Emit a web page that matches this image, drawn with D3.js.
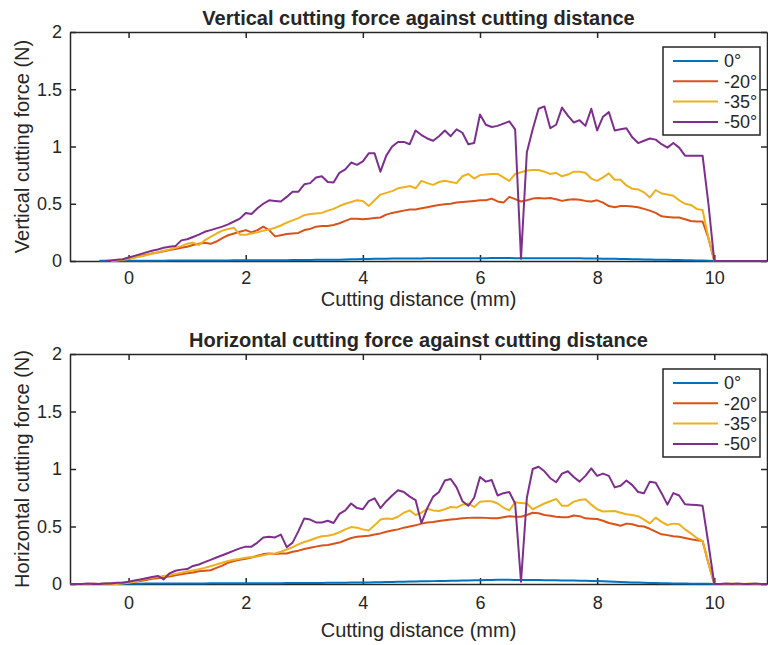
<!DOCTYPE html>
<html>
<head>
<meta charset="utf-8">
<script src="https://cdn.jsdelivr.net/npm/d3@7"></script>
<style>
  body { margin: 0; background: #fff; }
  text { font-family: "Liberation Sans", Arial, sans-serif; fill: #262626; }
</style>
</head>
<body>
<script>
// cutting distance (mm), sample grid shared by every series
var distance = [
  -1.0,-0.9,-0.8,-0.7,-0.6,-0.5,-0.4,-0.3,-0.2,-0.1,
  0.0,0.1,0.2,0.3,0.4,0.5,0.6,0.7,0.8,0.9,
  1.0,1.1,1.2,1.3,1.4,1.5,1.6,1.7,1.8,1.9,
  2.0,2.1,2.2,2.3,2.4,2.5,2.6,2.7,2.8,2.9,
  3.0,3.1,3.2,3.3,3.4,3.5,3.6,3.7,3.8,3.9,
  4.0,4.1,4.2,4.3,4.4,4.5,4.6,4.7,4.8,4.9,
  5.0,5.1,5.2,5.3,5.4,5.5,5.6,5.7,5.8,5.9,
  6.0,6.1,6.2,6.3,6.4,6.5,6.6,6.7,6.8,6.9,
  7.0,7.1,7.2,7.3,7.4,7.5,7.6,7.7,7.8,7.9,
  8.0,8.1,8.2,8.3,8.4,8.5,8.6,8.7,8.8,8.9,
  9.0,9.1,9.2,9.3,9.4,9.5,9.6,9.7,9.8,9.9,
  10.0,10.1,10.2,10.3,10.4,10.5,10.6,10.7,10.8,10.9
];

var angleLabels = ["0\u00b0", "-20\u00b0", "-35\u00b0", "-50\u00b0"];
var colors = ["#0072BD", "#D95319", "#EDB120", "#7E2F8E"];
var xTicks = [0, 2, 4, 6, 8, 10];
var yTicks = [0, 0.5, 1, 1.5, 2];

// vertical force (N)
var vert0 = [
  null,null,null,null,null,0.002,0.002,0.002,0.003,0.003,
  0.003,0.003,0.002,0.002,0.003,0.003,0.003,0.004,0.004,0.004,
  0.004,0.004,0.004,0.005,0.005,0.005,0.005,0.005,0.006,0.006,
  0.006,0.006,0.006,0.006,0.007,0.007,0.007,0.007,0.008,0.008,
  0.008,0.009,0.01,0.01,0.01,0.012,0.012,0.014,0.015,0.016,
  0.018,0.018,0.019,0.02,0.02,0.021,0.021,0.022,0.022,0.022,
  0.022,0.023,0.023,0.023,0.024,0.024,0.024,0.025,0.025,0.025,
  0.025,0.025,0.026,0.026,0.026,0.026,0.025,0.025,0.025,0.025,
  0.025,0.025,0.025,0.024,0.024,0.024,0.023,0.023,0.022,0.022,
  0.021,0.02,0.02,0.019,0.018,0.017,0.016,0.015,0.014,0.013,
  0.012,0.011,0.01,0.009,0.008,0.007,0.006,0.005,0.004,0.003,
  0,0,0,0,0,0,0,0,0,0
];
var vert20 = [
  null,null,null,null,null,null,null,0,0.005,0.01,
  0.02,0.03,0.045,0.055,0.065,0.075,0.085,0.095,0.105,0.115,
  0.125,0.14,0.15,0.16,0.15,0.17,0.20,0.225,0.24,0.255,
  0.27,0.25,0.27,0.30,0.27,0.215,0.225,0.235,0.24,0.245,
  0.27,0.28,0.30,0.305,0.305,0.315,0.33,0.35,0.37,0.37,
  0.365,0.37,0.375,0.38,0.405,0.42,0.43,0.44,0.45,0.45,
  0.46,0.47,0.48,0.49,0.495,0.50,0.51,0.515,0.52,0.525,
  0.53,0.53,0.545,0.52,0.51,0.56,0.54,0.52,0.53,0.545,
  0.55,0.545,0.55,0.54,0.525,0.535,0.54,0.535,0.525,0.52,
  0.53,0.51,0.48,0.47,0.48,0.48,0.475,0.47,0.455,0.44,
  0.42,0.39,0.385,0.38,0.38,0.365,0.35,0.345,0.345,0.2,
  0,0,0,0,0,0,0,0,0,0
];
var vert35 = [
  null,null,null,null,null,null,null,0,0.005,0.01,
  0.02,0.03,0.04,0.05,0.065,0.075,0.09,0.10,0.115,0.13,
  0.15,0.16,0.14,0.18,0.21,0.24,0.265,0.28,0.29,0.23,
  0.23,0.24,0.25,0.265,0.275,0.29,0.31,0.335,0.355,0.375,
  0.40,0.41,0.415,0.42,0.44,0.455,0.48,0.50,0.515,0.53,
  0.525,0.48,0.53,0.58,0.595,0.61,0.635,0.645,0.655,0.635,
  0.70,0.68,0.665,0.69,0.70,0.69,0.68,0.74,0.76,0.72,
  0.75,0.755,0.76,0.76,0.73,0.70,0.76,0.775,0.79,0.795,
  0.795,0.78,0.76,0.77,0.74,0.755,0.78,0.78,0.77,0.72,
  0.70,0.73,0.765,0.71,0.71,0.66,0.63,0.625,0.60,0.555,
  0.62,0.59,0.58,0.57,0.53,0.50,0.49,0.455,0.445,0.2,
  0,0,0,0,0,0,0,0,0,0
];
var vert50 = [
  null,null,null,null,null,null,0,0.005,0.01,0.015,
  0.03,0.045,0.06,0.075,0.09,0.10,0.115,0.125,0.13,0.18,
  0.19,0.21,0.23,0.255,0.27,0.285,0.30,0.32,0.345,0.37,
  0.42,0.41,0.46,0.50,0.53,0.525,0.52,0.56,0.605,0.605,
  0.67,0.68,0.73,0.74,0.69,0.685,0.77,0.80,0.86,0.84,
  0.87,0.94,0.94,0.78,0.92,1.00,1.04,1.04,1.02,1.14,
  1.10,1.07,1.05,1.09,1.14,1.09,1.15,1.12,1.02,1.03,
  1.28,1.19,1.17,1.18,1.20,1.22,1.15,0.02,0.95,1.15,
  1.33,1.35,1.16,1.19,1.34,1.27,1.21,1.23,1.18,1.33,
  1.14,1.26,1.30,1.14,1.15,1.16,1.08,1.03,1.05,1.07,
  1.06,1.02,0.99,1.03,0.99,0.92,0.92,0.92,0.92,0.5,
  0,0,0,0,0,0,0,0,0,0
];

// horizontal force (N)
var horiz0 = [
  null,null,null,null,null,0.003,0.003,0.003,0.003,0.003,
  0.003,0.003,0.003,0.004,0.004,0.004,0.004,0.004,0.005,0.005,
  0.005,0.005,0.005,0.005,0.006,0.006,0.006,0.006,0.006,0.006,
  0.006,0.007,0.007,0.007,0.007,0.007,0.007,0.008,0.008,0.008,
  0.008,0.008,0.009,0.009,0.01,0.01,0.011,0.011,0.012,0.012,
  0.013,0.014,0.015,0.016,0.017,0.018,0.019,0.02,0.021,0.022,
  0.023,0.024,0.025,0.026,0.027,0.028,0.029,0.03,0.031,0.032,
  0.033,0.034,0.035,0.036,0.036,0.036,0.035,0.035,0.035,0.034,
  0.034,0.033,0.033,0.032,0.031,0.03,0.03,0.029,0.028,0.027,
  0.026,0.024,0.022,0.02,0.018,0.016,0.014,0.012,0.01,0.009,
  0.008,0.007,0.006,0.005,0.004,0.004,0.003,0.003,0.002,0.002,
  0,0,0,0,0,0,0,0,0,0
];
var horiz20 = [
  0,0,0,0,0.005,0,0,0.005,0.005,0.01,
  0.015,0.02,0.025,0.035,0.045,0.05,0.06,0.065,0.075,0.085,
  0.093,0.10,0.11,0.115,0.12,0.14,0.16,0.185,0.20,0.21,
  0.22,0.23,0.245,0.26,0.265,0.26,0.265,0.265,0.28,0.29,
  0.305,0.315,0.325,0.335,0.34,0.35,0.36,0.38,0.40,0.41,
  0.415,0.42,0.43,0.44,0.455,0.465,0.475,0.49,0.50,0.51,
  0.525,0.535,0.54,0.548,0.555,0.56,0.565,0.572,0.575,0.577,
  0.577,0.575,0.572,0.571,0.58,0.59,0.585,0.585,0.60,0.62,
  0.615,0.60,0.594,0.585,0.58,0.58,0.595,0.59,0.571,0.568,
  0.565,0.55,0.53,0.52,0.507,0.525,0.52,0.505,0.50,0.48,
  0.455,0.432,0.425,0.415,0.41,0.40,0.39,0.38,0.374,0.18,
  0,0,0,0,0,0,0,0,0,0
];
var horiz35 = [
  0,0,0,0,0,0,0.005,0,0,0.005,
  0.01,0.02,0.035,0.045,0.055,0.062,0.07,0.078,0.088,0.098,
  0.108,0.118,0.128,0.14,0.155,0.17,0.185,0.20,0.21,0.22,
  0.228,0.235,0.24,0.25,0.26,0.265,0.28,0.30,0.32,0.345,
  0.365,0.38,0.40,0.415,0.42,0.43,0.45,0.475,0.495,0.49,
  0.475,0.465,0.51,0.56,0.57,0.565,0.585,0.62,0.64,0.60,
  0.62,0.655,0.64,0.635,0.65,0.67,0.665,0.69,0.70,0.67,
  0.716,0.72,0.72,0.70,0.665,0.64,0.71,0.705,0.70,0.65,
  0.675,0.70,0.72,0.74,0.68,0.68,0.716,0.73,0.737,0.69,
  0.65,0.63,0.633,0.635,0.62,0.606,0.60,0.59,0.56,0.528,
  0.577,0.54,0.513,0.525,0.52,0.475,0.44,0.40,0.374,0.18,
  0,0,0,0.005,0,0,0.005,0,0,0
];
var horiz50 = [
  0,0,0,0.005,0,0,0.005,0.005,0.01,0.01,
  0.02,0.03,0.04,0.05,0.06,0.07,0.04,0.093,0.115,0.125,
  0.13,0.157,0.17,0.19,0.21,0.23,0.25,0.27,0.29,0.31,
  0.325,0.325,0.36,0.405,0.41,0.405,0.43,0.32,0.36,0.46,
  0.57,0.56,0.535,0.535,0.55,0.53,0.61,0.64,0.70,0.66,
  0.65,0.72,0.745,0.66,0.72,0.77,0.815,0.80,0.76,0.73,
  0.53,0.66,0.76,0.80,0.90,0.913,0.84,0.72,0.68,0.75,
  0.93,0.89,0.904,0.77,0.79,0.80,0.70,0.02,0.75,1.00,
  1.02,0.98,0.92,0.885,0.96,0.98,0.93,0.89,0.94,1.005,
  0.94,0.96,0.94,0.84,0.855,0.90,0.86,0.80,0.79,0.89,
  0.88,0.79,0.69,0.79,0.77,0.693,0.69,0.687,0.68,0.35,
  0,0,0.005,0,0.005,0,0,0.005,0,0
];

var svg = d3.select("body").append("svg")
  .attr("width", 768)
  .attr("height", 645);

drawPanel({
  top: 32, bottom: 261, left: 70, right: 767,
  tickPad: 10, xLabelY: 306,
  title: "Vertical cutting force against cutting distance",
  yLabel: "Vertical cutting force (N)",
  series: [vert0, vert20, vert35, vert50]
});

drawPanel({
  top: 354, bottom: 584, left: 70, right: 767,
  tickPad: 12, xLabelY: 637,
  title: "Horizontal cutting force against cutting distance",
  yLabel: "Horizontal cutting force (N)",
  series: [horiz0, horiz20, horiz35, horiz50]
});

function drawPanel(p){
  var xScale = d3.scaleLinear().domain([-1, 10.9]).range([p.left, p.right]);
  var yScale = d3.scaleLinear().domain([0, 2]).range([p.bottom, p.top]);
  var g = svg.append("g");

  // axes (ticks point inward, box all round)
  g.append("g")
    .attr("transform", "translate(0," + p.bottom + ")")
    .call(d3.axisBottom(xScale).tickValues(xTicks).tickSizeInner(-6).tickSizeOuter(0).tickPadding(p.tickPad));
  g.append("g")
    .attr("transform", "translate(0," + p.top + ")")
    .call(d3.axisTop(xScale).tickValues(xTicks).tickSizeInner(-6).tickSizeOuter(0).tickFormat(""));
  g.append("g")
    .attr("transform", "translate(" + p.left + ",0)")
    .call(d3.axisLeft(yScale).tickValues(yTicks).tickSizeInner(-6).tickSizeOuter(0).tickPadding(8)
      .tickFormat(function(d){ return d; }));
  g.append("g")
    .attr("transform", "translate(" + p.right + ",0)")
    .call(d3.axisRight(yScale).tickValues(yTicks).tickSizeInner(-6).tickSizeOuter(0).tickFormat(""));

  g.selectAll(".domain, .tick line")
    .attr("stroke", "#262626")
    .attr("stroke-width", 1.5);
  g.selectAll(".tick text")
    .attr("fill", "#262626")
    .attr("font-family", "Liberation Sans, Arial, sans-serif")
    .attr("font-size", "18px");

  var line = d3.line()
    .defined(function(d){ return d[1] != null; })
    .x(function(d){ return xScale(d[0]); })
    .y(function(d){ return yScale(d[1]); });

  p.series.forEach(function(s, i){
    g.append("path")
      .datum(distance.map(function(x, j){ return [x, s[j]]; }))
      .attr("d", line)
      .attr("fill", "none")
      .attr("stroke", colors[i])
      .attr("stroke-width", 2)
      .attr("stroke-linejoin", "round");
  });

  // titles
  g.append("text")
    .text(p.title)
    .attr("x", (p.left + p.right) / 2)
    .attr("y", p.top - 7)
    .attr("text-anchor", "middle")
    .attr("font-weight", "bold")
    .attr("font-size", "20px");

  g.append("text")
    .text("Cutting distance (mm)")
    .attr("x", (p.left + p.right) / 2)
    .attr("y", p.xLabelY)
    .attr("text-anchor", "middle")
    .attr("font-size", "20px");

  g.append("text")
    .text(p.yLabel)
    .attr("transform", "translate(22," + ((p.top + p.bottom) / 2) + ") rotate(-90)")
    .attr("dy", "0.35em")
    .attr("text-anchor", "middle")
    .attr("font-size", "20px");

  // legend
  var lg = g.append("g").attr("transform", "translate(663," + (p.top + 15) + ")");
  lg.append("rect")
    .attr("width", 97)
    .attr("height", 88)
    .attr("fill", "#fff")
    .attr("stroke", "#262626")
    .attr("stroke-width", 1.5);
  angleLabels.forEach(function(lab, i){
    var yy = 14 + i * 20.3;
    lg.append("line")
      .attr("x1", 10).attr("x2", 55)
      .attr("y1", yy).attr("y2", yy)
      .attr("stroke", colors[i])
      .attr("stroke-width", 2);
    lg.append("text")
      .text(lab)
      .attr("x", 61)
      .attr("y", yy)
      .attr("dy", "0.35em")
      .attr("font-size", "18px");
  });
}
</script>
</body>
</html>
